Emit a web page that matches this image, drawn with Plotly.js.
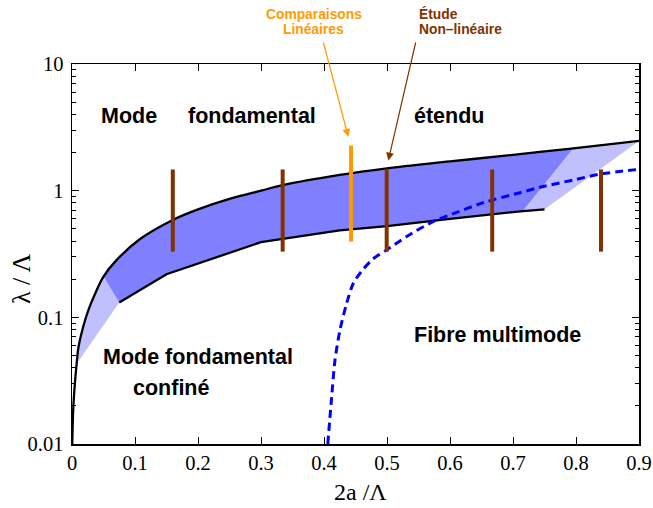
<!DOCTYPE html>
<html>
<head>
<meta charset="utf-8">
<script src="https://cdn.plot.ly/plotly-3.0.1.min.js"></script>
<style>html,body{margin:0;padding:0;background:#fff;}#chart{width:653px;height:508px;}</style>
</head>
<body>
<div id="chart"></div>
<script>
// ---- data ----
const upperX = [0.0004, 0.001, 0.002, 0.0048, 0.0074, 0.01, 0.018, 0.026, 0.037, 0.05, 0.071, 0.108, 0.16, 0.2, 0.25, 0.3, 0.333, 0.425, 0.5, 0.6, 0.7, 0.796, 0.9];
const upperY = [0.01, 0.0135, 0.019, 0.031, 0.043, 0.057, 0.085, 0.114, 0.155, 0.21, 0.284, 0.415, 0.587, 0.711, 0.86, 1.0, 1.10, 1.33, 1.50, 1.70, 1.92, 2.16, 2.47];
const lowerX = [0.075, 0.15, 0.3, 0.425, 0.5, 0.6, 0.716, 0.75];
const lowerY = [0.131, 0.219, 0.392, 0.485, 0.525, 0.6, 0.69, 0.713];
const dashX = [0.406, 0.4122, 0.4175, 0.4254, 0.436, 0.4466, 0.4624, 0.478, 0.4995, 0.531, 0.576, 0.6, 0.653, 0.711, 0.743, 0.796, 0.838, 0.9];
const dashY = [0.01, 0.0237, 0.0461, 0.0796, 0.129, 0.186, 0.24, 0.29, 0.34, 0.434, 0.58, 0.643, 0.804, 0.964, 1.064, 1.215, 1.35, 1.475];
// region limits (x values on the curves)
const lightLeftStart = 0.0074;
const darkUpperStart = 0.05;
const darkUpperEnd = 0.796;
const darkLowerEnd = 0.716;
// study bars
const brownBarX = [0.16, 0.3344, 0.4995, 0.667, 0.8397];
const brownBarLow = [0.33, 0.33, 0.33, 0.33, 0.33];
const brownBarHigh = [1.47, 1.47, 1.47, 1.47, 1.47];
const orangeBarX = [0.4429];
const orangeBarLow = [0.396];
const orangeBarHigh = [2.27];
// ticks
const xTickVals = [0, 0.1, 0.2, 0.3, 0.4, 0.5, 0.6, 0.7, 0.8, 0.9];
const xTickText = ['0', '0.1', '0.2', '0.3', '0.4', '0.5', '0.6', '0.7', '0.8', '0.9'];
const yTickVals = [0.01, 0.1, 1, 10];
const yTickText = ['0.01', '0.1', '1', '10'];
const yMinorVals = [0.02,0.03,0.04,0.05,0.06,0.07,0.08,0.09,0.2,0.3,0.4,0.5,0.6,0.7,0.8,0.9,2,3,4,5,6,7,8,9];

// ---- region pieces taken from the curves ----
function pick(xs, ys, a, b) {
  const px = [], py = [];
  for (let i = 0; i < xs.length; i++) if (xs[i] >= a - 1e-9 && xs[i] <= b + 1e-9) { px.push(xs[i]); py.push(ys[i]); }
  return [px, py];
}
const [ulX, ulY] = pick(upperX, upperY, lightLeftStart, darkUpperStart);
const [udX, udY] = pick(upperX, upperY, darkUpperStart, darkUpperEnd);
const [ldX, ldY] = pick(lowerX, lowerY, lowerX[0], darkLowerEnd);
const [urX, urY] = pick(upperX, upperY, darkUpperEnd, 1);
const [lrX, lrY] = pick(lowerX, lowerY, darkLowerEnd, 1);

function bars(xs, lo, hi) {
  const x = [], y = [];
  for (let i = 0; i < xs.length; i++) { x.push(xs[i], xs[i], null); y.push(lo[i], hi[i], null); }
  return { x, y };
}
const bb = bars(brownBarX, brownBarLow, brownBarHigh);
const ob = bars(orangeBarX, orangeBarLow, orangeBarHigh);

const DARK = '#8080ff', LIGHT = '#c0c0ff', BROWN = '#803300', ORANGE = '#ff9a00';
const SM = 1;
const none = { width: 0 };

const traces = [
  { x: [lowerX[0], lowerX[0]], y: [lowerY[0], lowerY[0]], mode: 'lines', line: none, hoverinfo: 'skip' },
  { x: ulX, y: ulY, mode: 'lines', line: { width: 0, shape: 'spline', smoothing: SM }, fill: 'tonexty', fillcolor: LIGHT, hoverinfo: 'skip' },
  { x: ldX, y: ldY, mode: 'lines', line: none, hoverinfo: 'skip' },
  { x: udX, y: udY, mode: 'lines', line: { width: 0, shape: 'spline', smoothing: SM }, fill: 'tonexty', fillcolor: DARK, hoverinfo: 'skip' },
  { x: lrX, y: lrY, mode: 'lines', line: none, hoverinfo: 'skip' },
  { x: urX, y: urY, mode: 'lines', line: { width: 0, shape: 'spline', smoothing: SM }, fill: 'tonexty', fillcolor: LIGHT, hoverinfo: 'skip' },
  { x: upperX, y: upperY, mode: 'lines', line: { color: '#000', width: 2.3, shape: 'spline', smoothing: SM }, hoverinfo: 'skip' },
  { x: lowerX, y: lowerY, mode: 'lines', line: { color: '#000', width: 2.3 }, hoverinfo: 'skip' },
  { x: dashX, y: dashY, mode: 'lines', line: { color: '#0000ff', width: 3, dash: '8px,5px', shape: 'spline', smoothing: 0.8 }, hoverinfo: 'skip' },
  { x: bb.x, y: bb.y, mode: 'lines', line: { color: BROWN, width: 4 }, hoverinfo: 'skip' },
  { x: ob.x, y: ob.y, mode: 'lines', line: { color: ORANGE, width: 4 }, hoverinfo: 'skip' }
];

// pixel -> paper helpers (plot area: x 72..639, y 64..444)
const L = 72, R = 14, T = 64, B = 64, W = 653, H = 508;
const pw = W - L - R, ph = H - T - B;
const px = v => (v - L) / pw;
const py = v => (H - B - v) / ph;

const bigFont = { family: 'Liberation Sans, Arial, sans-serif', size: 21.5, color: '#000', weight: 'bold' };
function label(text, x, y, anchor, font) {
  return { text: text, x: px(x), y: py(y), xref: 'paper', yref: 'paper', xanchor: anchor, yanchor: 'middle', showarrow: false, font: font };
}
const smallOrange = { family: 'Liberation Sans, Arial, sans-serif', size: 13.8, color: ORANGE, weight: 'bold' };
const smallBrown = { family: 'Liberation Sans, Arial, sans-serif', size: 13.8, color: BROWN, weight: 'bold' };
const xTitleFont = { family: 'Liberation Serif, Times New Roman, serif', size: 24, color: '#000' };
const yTitleFont = { family: 'Liberation Serif, Times New Roman, serif', size: 26, color: '#000' };

const annotations = [
  label('<b>Mode</b>', 99, 116, 'left', bigFont),
  label('<b>fondamental</b>', 186, 116, 'left', bigFont),
  label('<b>étendu</b>', 412, 116, 'left', bigFont),
  label('<b>Mode fondamental</b>', 101, 357, 'left', bigFont),
  label('<b>confiné</b>', 131, 388, 'left', bigFont),
  label('<b>Fibre multimode</b>', 412, 335, 'left', bigFont),
  label('<b>Comparaisons</b>', 313.5, 14, 'center', smallOrange),
  label('<b>Linéaires</b>', 313.5, 30, 'center', smallOrange),
  label('<b>Étude</b>', 417, 14, 'left', smallBrown),
  label('<b>Non–linéaire</b>', 417, 30, 'left', smallBrown),
  { text: '', x: px(348.3), y: py(136.7), xref: 'paper', yref: 'paper', showarrow: true, axref: 'pixel', ayref: 'pixel',
    ax: 323 - 348.3, ay: 41 - 136.7, arrowcolor: ORANGE, arrowwidth: 1.2, arrowhead: 2, arrowsize: 1.3, standoff: 0 },
  { text: '', x: px(388.3), y: py(160.5), xref: 'paper', yref: 'paper', showarrow: true, axref: 'pixel', ayref: 'pixel',
    ax: 416 - 388.3, ay: 41 - 160.5, arrowcolor: BROWN, arrowwidth: 1.2, arrowhead: 2, arrowsize: 1.3, standoff: 0 },
  { text: '2a /Λ', x: px(360), y: py(492), xref: 'paper', yref: 'paper', xanchor: 'center', yanchor: 'middle', showarrow: false, font: xTitleFont },
  { text: 'λ / Λ', x: px(21), y: py(279), xref: 'paper', yref: 'paper', xanchor: 'center', yanchor: 'middle', textangle: -90, showarrow: false, font: yTitleFont }
];

const tickFont = { family: 'Liberation Serif, Times New Roman, serif', size: 20.5, color: '#000' };
const layout = {
  width: W, height: H,
  margin: { l: L, r: R, t: T, b: B, pad: 0 },
  paper_bgcolor: '#fff', plot_bgcolor: '#fff',
  showlegend: false, hovermode: false,
  xaxis: {
    range: [0, 0.9], autorange: false, showgrid: false, zeroline: false,
    showline: true, linecolor: '#000', linewidth: 1.5, mirror: 'ticks',
    ticks: 'inside', ticklen: 7, tickwidth: 1, tickcolor: '#000',
    tickmode: 'array', tickvals: xTickVals, ticktext: xTickText,
    tickfont: tickFont, ticklabelstandoff: 0
  },
  yaxis: {
    type: 'log', range: [-2, 1], autorange: false, showgrid: false, zeroline: false,
    showline: true, linecolor: '#000', linewidth: 1.5, mirror: 'ticks',
    ticks: 'inside', ticklen: 7, tickwidth: 1, tickcolor: '#000',
    tickmode: 'array', tickvals: yTickVals, ticktext: yTickText,
    tickfont: tickFont, ticklabelstandoff: 3,
    minor: { ticks: 'inside', ticklen: 4, tickwidth: 1, tickcolor: '#000', tickmode: 'array', tickvals: yMinorVals, showgrid: false }
  },
  annotations: annotations
};

Plotly.newPlot('chart', traces, layout, { displayModeBar: false, staticPlot: true });
</script>
</body>
</html>
